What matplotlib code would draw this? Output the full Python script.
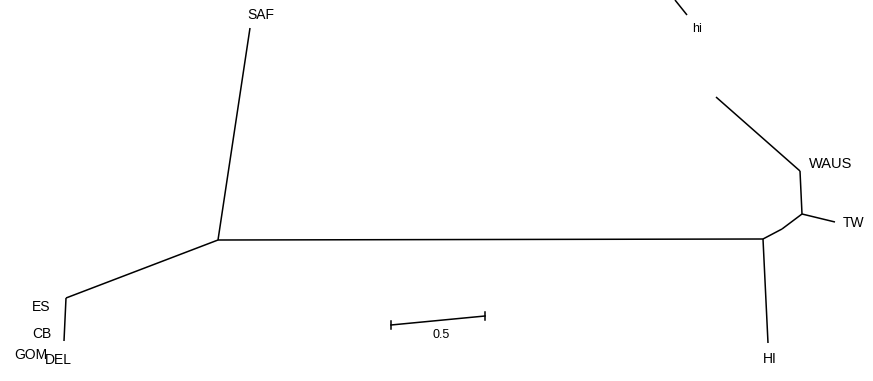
import matplotlib.pyplot as plt

# unrooted tree drawn in page coordinates (pixels, y down)
# node positions
nodes = {
    'A': (218, 240),      # left internal node
    'L': (66, 298),       # ES / CB / GOM / DEL node
    'L2': (64, 341),
    'B': (763, 239),      # HI node
    'Bm': (782, 229),
    'C': (802, 214),      # TW / WAUS node
    'W': (800, 171),
    'SAF': (250, 28),
    'HI': (768, 343),
    'TW': (835, 222),
    'Wup': (716, 97),
    'hi0': (675, 0),
    'hi1': (687, 15),
}
edges = [('A', 'SAF'), ('A', 'L'), ('L', 'L2'), ('A', 'B'), ('B', 'HI'),
         ('B', 'Bm'), ('Bm', 'C'), ('C', 'TW'), ('C', 'W'), ('W', 'Wup'),
         ('hi0', 'hi1')]

labels = ['SAF', 'hi', 'WAUS', 'TW', 'HI', 'ES', 'CB', 'GOM', 'DEL', '0.5']
label_xy = [(261, 15), (697, 29), (831, 164), (854, 223), (770, 359),
            (41, 307), (42, 334), (31, 355), (58, 360), (441, 335)]
label_size = [10, 9, 10.5, 10, 10, 10, 10, 10, 10, 9]

scale_bar = [(391, 325), (485, 316)]

fig = plt.figure(figsize=(8.73, 3.81), dpi=100)
ax = fig.add_axes([0, 0, 1, 1])
for a, b in edges:
    x0, y0 = nodes[a]
    x1, y1 = nodes[b]
    ax.plot([x0, x1], [y0, y1], color='black', lw=1.1, solid_capstyle='butt')

(sx0, sy0), (sx1, sy1) = scale_bar
ax.plot([sx0, sx1], [sy0, sy1], color='black', lw=1.1)
for sx, sy in scale_bar:
    ax.plot([sx, sx], [sy - 4, sy + 4], color='black', lw=1.1)

for t, (x, y), fs in zip(labels, label_xy, label_size):
    ax.text(x, y, t, ha='center', va='center', fontsize=fs,
            family='Liberation Sans', color='black')

ax.set_xlim(0, 873)
ax.set_ylim(381, 0)
ax.axis('off')
fig.savefig('out.png', dpi=100, facecolor='white')
